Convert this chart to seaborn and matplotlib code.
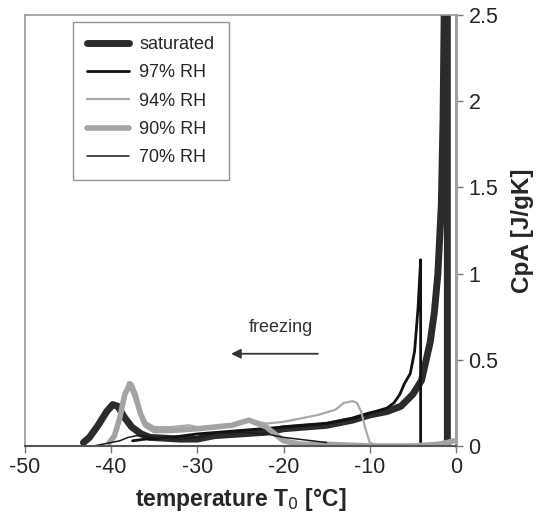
import numpy as np
import pandas as pd
import seaborn as sns
import matplotlib
matplotlib.use("Agg")
import matplotlib.pyplot as plt

# datos (temperatura en C, CpA en J/gK), en orden de enfriamiento
sat_t = [-1.0, -1.0, -1.35, -1.5, -1.7, -2.1, -2.5, -3.0, -4.0, -5.0, -6.4, -8.0, -10.0, -12.0,
         -15.0, -20.0, -22.0, -25.0, -28.0, -30.0, -32.0, -35.5, -36.5, -37.6, -38.5, -39.2,
         -39.8, -40.5, -41.5, -42.5, -43.2]
sat_c = [0.0, 2.6, 2.6, 1.9, 1.4, 1.0, 0.78, 0.6, 0.38, 0.30, 0.23, 0.20, 0.18, 0.15,
         0.12, 0.10, 0.08, 0.07, 0.06, 0.04, 0.04, 0.05, 0.07, 0.11, 0.17, 0.23,
         0.24, 0.20, 0.12, 0.05, 0.02]

rh97_t = [-4.1, -4.1, -4.4, -4.8, -5.3, -6.0, -6.5, -7.2, -8.0, -10.0, -12.0, -15.0, -20.0,
          -25.0, -30.0, -33.0, -36.0, -37.5]
rh97_c = [0.0, 1.08, 0.8, 0.55, 0.42, 0.36, 0.30, 0.25, 0.22, 0.19, 0.16, 0.13, 0.11,
          0.09, 0.07, 0.05, 0.04, 0.03]

rh94_t = [-9.0, -10.0, -10.5, -11.0, -11.5, -12.0, -13.0, -14.0, -16.0, -18.0, -20.0, -22.0,
          -24.0, -26.0, -28.0, -30.0, -31.0, -33.0, -35.0, -36.0, -36.5, -37.0, -37.5, -38.0,
          -38.5, -39.0, -39.5, -40.0]
rh94_c = [0.0, 0.02, 0.1, 0.2, 0.25, 0.26, 0.25, 0.21, 0.18, 0.16, 0.14, 0.13,
          0.15, 0.12, 0.10, 0.11, 0.12, 0.11, 0.11, 0.14, 0.2, 0.3, 0.36, 0.37,
          0.28, 0.15, 0.05, 0.02]

rh90_t = [-0.3, -1.0, -2.0, -5.0, -10.0, -15.0, -18.0, -20.0, -21.0, -22.0, -24.0, -26.0,
          -30.0, -33.0, -35.0, -36.0, -36.6, -37.2, -37.8, -38.4, -39.0, -39.6, -40.2]
rh90_c = [0.03, 0.02, 0.01, 0.0, 0.0, 0.01, 0.01, 0.03, 0.07, 0.11, 0.15, 0.12,
          0.10, 0.09, 0.09, 0.12, 0.19, 0.29, 0.36, 0.30, 0.16, 0.06, 0.02]

rh70_t = [-15.0, -20.0, -22.0, -25.0, -28.0, -30.0, -32.0, -35.0, -37.0, -38.0, -39.0,
          -40.0, -41.0, -42.0]
rh70_c = [0.02, 0.05, 0.07, 0.08, 0.07, 0.05, 0.04, 0.05, 0.06, 0.05, 0.03,
          0.02, 0.01, 0.0]

series = ["saturated", "97% RH", "94% RH", "90% RH", "70% RH"]
datos = [(sat_t, sat_c), (rh97_t, rh97_c), (rh94_t, rh94_c), (rh90_t, rh90_c), (rh70_t, rh70_c)]
colores = ["#2b2b2b", "#111111", "#a9a9a9", "#a3a3a3", "#1a1a1a"]
grosores = [5.0, 2.0, 1.6, 4.0, 1.1]

sns.set_style("white")
plt.rcParams["font.family"] = ["Liberation Sans", "DejaVu Sans"]
plt.rcParams["axes.unicode_minus"] = False

fig = plt.figure(figsize=(5.39, 5.15), dpi=100)
ax = fig.add_axes([0.046, 0.134, 0.8, 0.837])

for nombre, (t, c), col, lw in zip(series, datos, colores, grosores):
    df = pd.DataFrame({"T": t, "CpA": c})
    sns.lineplot(data=df, x="T", y="CpA", sort=False, color=col, linewidth=lw,
                 label=nombre, ax=ax, estimator=None)

ax.set_xlim(-50, 0)
ax.set_ylim(0, 2.5)
ax.set_xticks([-50, -40, -30, -20, -10, 0])
ax.set_yticks([0, 0.5, 1, 1.5, 2, 2.5])
ax.set_yticklabels(["0", "0.5", "1", "1.5", "2", "2.5"])
ax.yaxis.tick_right()
ax.yaxis.set_label_position("right")
ax.tick_params(axis="both", labelsize=15.5, length=5, width=1, color="#777777", direction="out")
ax.tick_params(axis="x", bottom=True, pad=3)
ax.tick_params(axis="y", right=True, left=False, pad=4)

ax.set_xlabel("temperature T$_0$ [°C]", fontsize=16.5, fontweight="bold", labelpad=6)
ax.set_ylabel("CpA [J/gK]", fontsize=17.5, fontweight="bold", labelpad=9)

for lado in ["left", "top"]:
    ax.spines[lado].set_color("#9a9a9a")
    ax.spines[lado].set_linewidth(1.2)
ax.spines["right"].set_color("#a0a0a0")
ax.spines["right"].set_linewidth(2.2)
ax.spines["bottom"].set_color("#555555")
ax.spines["bottom"].set_linewidth(1.5)

# flecha de congelamiento
ax.annotate("", xy=(-26.4, 0.535), xytext=(-15.7, 0.535),
            arrowprops=dict(arrowstyle="-|>", color="#333333", lw=1.3, mutation_scale=14))
ax.text(-20.3, 0.69, "freezing", ha="center", va="center", fontsize=13, color="#333333")

leg = ax.legend(loc="upper left", bbox_to_anchor=(0.111, 0.984), borderaxespad=0,
                fontsize=13, handlelength=2.3, labelspacing=0.62, borderpad=0.8,
                handletextpad=0.6, fancybox=False, frameon=True, edgecolor="#777777")
leg.get_frame().set_linewidth(1.0)

fig.savefig("out.png", dpi=100)
